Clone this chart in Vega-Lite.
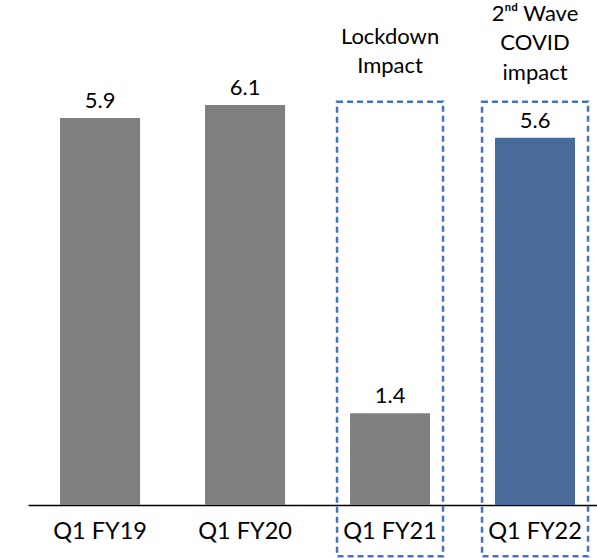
{
  "$schema": "https://vega.github.io/schema/vega-lite/v6.json",
  "width": 569,
  "height": 505,
  "autosize": "none",
  "padding": {"left": 28, "top": 0, "right": 0, "bottom": 53},
  "background": "white",
  "config": {"view": {"stroke": null}, "font": "Lato"},
  "datasets": {
    "bars": [
      {"quarter": "Q1 FY19", "value": 5.9, "series": "Other"},
      {"quarter": "Q1 FY20", "value": 6.1, "series": "Other"},
      {"quarter": "Q1 FY21", "value": 1.4, "series": "Other"},
      {"quarter": "Q1 FY22", "value": 5.6, "series": "2nd wave"}
    ],
    "boxes": [
      {"quarter": "Q1 FY21", "top": 6.15, "bottom": -0.78, "note": "Lockdown\nImpact", "noteY": 7.03},
      {"quarter": "Q1 FY22", "top": 6.15, "bottom": -0.78, "note": "2ⁿᵈ Wave\nCOVID\nimpact", "noteY": 7.38}
    ]
  },
  "encoding": {
    "x": {
      "field": "quarter",
      "type": "nominal",
      "sort": ["Q1 FY19", "Q1 FY20", "Q1 FY21", "Q1 FY22"],
      "scale": {"domain": ["Q1 FY19", "Q1 FY20", "Q1 FY21", "Q1 FY22"], "paddingInner": 0.269, "paddingOuter": 0.0966, "align": 0.68},
      "axis": {
        "title": null,
        "labelAngle": 0,
        "ticks": false,
        "domain": true,
        "domainColor": "#000000",
        "domainWidth": 1.5,
        "labelFontSize": 23.5,
        "labelColor": "#000000",
        "labelPadding": 14,
        "labelFont": "Lato"
      }
    }
  },
  "layer": [
    {
      "data": {"name": "bars"},
      "mark": {"type": "bar", "width": {"band": 0.755}},
      "encoding": {
        "y": {"field": "value", "type": "quantitative", "scale": {"domain": [0, 7.7], "nice": false, "zero": true}, "axis": null},
        "color": {"field": "series", "type": "nominal", "scale": {"domain": ["Other", "2nd wave"], "range": ["#7f7f7f", "#4a6a9a"]}, "legend": null}
      }
    },
    {
      "data": {"name": "bars"},
      "mark": {"type": "text", "fontSize": 22, "baseline": "alphabetic", "dy": -10, "color": "#000000", "font": "Lato"},
      "encoding": {
        "y": {"field": "value", "type": "quantitative", "axis": null},
        "text": {"field": "value", "type": "quantitative", "format": ".1f"}
      }
    },
    {
      "data": {"name": "boxes"},
      "mark": {"type": "bar", "fill": "transparent", "stroke": "#4472c4", "strokeWidth": 2.5, "strokeDash": [6, 4]},
      "encoding": {
        "y": {"field": "top", "type": "quantitative", "axis": null},
        "y2": {"field": "bottom"}
      }
    },
    {
      "data": {"name": "boxes"},
      "mark": {"type": "text", "fontSize": 22, "baseline": "alphabetic", "lineBreak": "\n", "lineHeight": 29.5, "color": "#000000", "font": "Lato"},
      "encoding": {
        "y": {"field": "noteY", "type": "quantitative", "axis": null},
        "text": {"field": "note", "type": "nominal"}
      }
    }
  ]
}
